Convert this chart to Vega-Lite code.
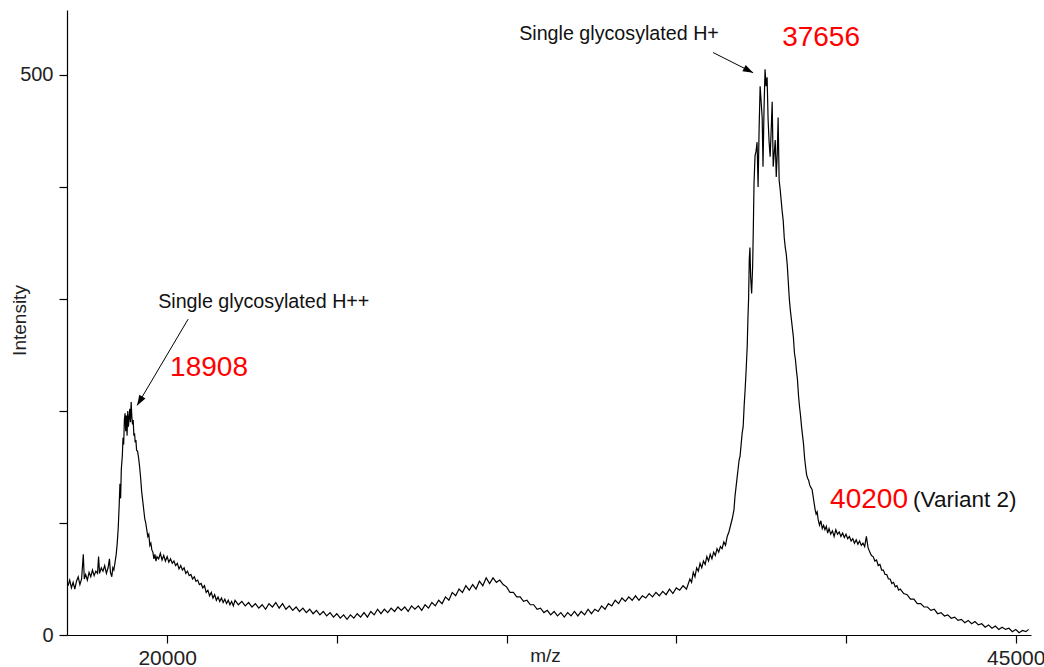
{
  "$schema": "https://vega.github.io/schema/vega-lite/v6.json",
  "width": 964,
  "height": 625,
  "autosize": "none",
  "padding": {"left": 67, "top": 10, "right": 13, "bottom": 32},
  "background": "white",
  "config": {
    "view": {"stroke": null},
    "font": "Liberation Sans",
    "axis": {"grid": false, "domainColor": "#000", "tickColor": "#000", "labelColor": "#222", "titleColor": "#222", "labelFont": "Liberation Sans", "titleFont": "Liberation Sans", "titleFontWeight": "normal", "labelFontSize": 20, "titleFontSize": 19, "tickSize": 8, "domainWidth": 1.2, "tickWidth": 1.2}
  },
  "datasets": {
    "spectrum": [
      {"mz":17080,"intensity":44},{"mz":17130,"intensity":49},{"mz":17180,"intensity":42},{"mz":17230,"intensity":47},{"mz":17280,"intensity":41},{"mz":17330,"intensity":48},{"mz":17380,"intensity":52},{"mz":17430,"intensity":45},{"mz":17480,"intensity":50},{"mz":17530,"intensity":72},{"mz":17560,"intensity":50},{"mz":17600,"intensity":54},{"mz":17650,"intensity":49},{"mz":17700,"intensity":56},{"mz":17750,"intensity":52},{"mz":17800,"intensity":58},{"mz":17850,"intensity":53},{"mz":17900,"intensity":57},{"mz":17950,"intensity":55},{"mz":17980,"intensity":70},{"mz":18010,"intensity":55},{"mz":18060,"intensity":60},{"mz":18110,"intensity":57},{"mz":18160,"intensity":62},{"mz":18210,"intensity":55},{"mz":18260,"intensity":60},{"mz":18300,"intensity":68},{"mz":18330,"intensity":56},{"mz":18370,"intensity":52},{"mz":18400,"intensity":60},{"mz":18430,"intensity":58},{"mz":18470,"intensity":66},{"mz":18500,"intensity":72},{"mz":18530,"intensity":82},{"mz":18560,"intensity":96},{"mz":18590,"intensity":118},{"mz":18610,"intensity":135},{"mz":18630,"intensity":122},{"mz":18650,"intensity":148},{"mz":18680,"intensity":160},{"mz":18700,"intensity":176},{"mz":18720,"intensity":170},{"mz":18740,"intensity":192},{"mz":18760,"intensity":198},{"mz":18780,"intensity":182},{"mz":18800,"intensity":196},{"mz":18820,"intensity":178},{"mz":18840,"intensity":200},{"mz":18860,"intensity":186},{"mz":18880,"intensity":194},{"mz":18900,"intensity":202},{"mz":18920,"intensity":190},{"mz":18940,"intensity":208},{"mz":18960,"intensity":195},{"mz":18980,"intensity":188},{"mz":19000,"intensity":192},{"mz":19020,"intensity":178},{"mz":19040,"intensity":180},{"mz":19060,"intensity":172},{"mz":19080,"intensity":174},{"mz":19100,"intensity":165},{"mz":19130,"intensity":164},{"mz":19160,"intensity":158},{"mz":19190,"intensity":150},{"mz":19220,"intensity":140},{"mz":19250,"intensity":128},{"mz":19280,"intensity":120},{"mz":19310,"intensity":112},{"mz":19340,"intensity":104},{"mz":19370,"intensity":100},{"mz":19400,"intensity":94},{"mz":19430,"intensity":88},{"mz":19460,"intensity":90},{"mz":19490,"intensity":80},{"mz":19520,"intensity":82},{"mz":19550,"intensity":76},{"mz":19580,"intensity":74},{"mz":19610,"intensity":68},{"mz":19640,"intensity":72},{"mz":19670,"intensity":66},{"mz":19700,"intensity":70},{"mz":19750,"intensity":68},{"mz":19800,"intensity":73},{"mz":19850,"intensity":67},{"mz":19900,"intensity":71},{"mz":19950,"intensity":66},{"mz":20000,"intensity":70},{"mz":20050,"intensity":65},{"mz":20100,"intensity":68},{"mz":20150,"intensity":64},{"mz":20200,"intensity":66},{"mz":20250,"intensity":62},{"mz":20300,"intensity":64},{"mz":20350,"intensity":59},{"mz":20400,"intensity":62},{"mz":20450,"intensity":58},{"mz":20500,"intensity":60},{"mz":20550,"intensity":55},{"mz":20600,"intensity":57},{"mz":20650,"intensity":53},{"mz":20700,"intensity":54},{"mz":20750,"intensity":50},{"mz":20800,"intensity":52},{"mz":20850,"intensity":48},{"mz":20900,"intensity":49},{"mz":20950,"intensity":45},{"mz":21000,"intensity":46},{"mz":21050,"intensity":42},{"mz":21100,"intensity":44},{"mz":21150,"intensity":38},{"mz":21200,"intensity":40},{"mz":21250,"intensity":35},{"mz":21300,"intensity":38},{"mz":21350,"intensity":33},{"mz":21400,"intensity":36},{"mz":21450,"intensity":31},{"mz":21500,"intensity":34},{"mz":21550,"intensity":30},{"mz":21600,"intensity":33},{"mz":21650,"intensity":29},{"mz":21700,"intensity":32},{"mz":21750,"intensity":28},{"mz":21800,"intensity":31},{"mz":21850,"intensity":27},{"mz":21900,"intensity":30},{"mz":21950,"intensity":26},{"mz":22000,"intensity":31},{"mz":22100,"intensity":27},{"mz":22200,"intensity":30},{"mz":22300,"intensity":26},{"mz":22400,"intensity":29},{"mz":22500,"intensity":25},{"mz":22600,"intensity":28},{"mz":22700,"intensity":24},{"mz":22800,"intensity":27},{"mz":22900,"intensity":23},{"mz":23000,"intensity":28},{"mz":23100,"intensity":25},{"mz":23200,"intensity":29},{"mz":23300,"intensity":24},{"mz":23400,"intensity":28},{"mz":23500,"intensity":23},{"mz":23600,"intensity":26},{"mz":23700,"intensity":22},{"mz":23800,"intensity":25},{"mz":23900,"intensity":21},{"mz":24000,"intensity":24},{"mz":24100,"intensity":20},{"mz":24200,"intensity":23},{"mz":24300,"intensity":19},{"mz":24400,"intensity":22},{"mz":24500,"intensity":18},{"mz":24600,"intensity":21},{"mz":24700,"intensity":17},{"mz":24800,"intensity":20},{"mz":24900,"intensity":16},{"mz":25000,"intensity":19},{"mz":25100,"intensity":15},{"mz":25200,"intensity":18},{"mz":25300,"intensity":14},{"mz":25400,"intensity":18},{"mz":25500,"intensity":15},{"mz":25600,"intensity":19},{"mz":25700,"intensity":16},{"mz":25800,"intensity":20},{"mz":25900,"intensity":16},{"mz":26000,"intensity":21},{"mz":26100,"intensity":18},{"mz":26200,"intensity":23},{"mz":26300,"intensity":19},{"mz":26400,"intensity":23},{"mz":26500,"intensity":20},{"mz":26600,"intensity":24},{"mz":26700,"intensity":21},{"mz":26800,"intensity":25},{"mz":26900,"intensity":22},{"mz":27000,"intensity":25},{"mz":27100,"intensity":21},{"mz":27200,"intensity":26},{"mz":27300,"intensity":23},{"mz":27400,"intensity":26},{"mz":27500,"intensity":22},{"mz":27600,"intensity":27},{"mz":27700,"intensity":24},{"mz":27800,"intensity":29},{"mz":27900,"intensity":26},{"mz":28000,"intensity":31},{"mz":28100,"intensity":28},{"mz":28200,"intensity":34},{"mz":28300,"intensity":31},{"mz":28400,"intensity":38},{"mz":28500,"intensity":35},{"mz":28600,"intensity":41},{"mz":28700,"intensity":38},{"mz":28800,"intensity":44},{"mz":28900,"intensity":40},{"mz":29000,"intensity":45},{"mz":29100,"intensity":41},{"mz":29200,"intensity":48},{"mz":29300,"intensity":44},{"mz":29400,"intensity":51},{"mz":29500,"intensity":46},{"mz":29600,"intensity":51},{"mz":29700,"intensity":47},{"mz":29800,"intensity":49},{"mz":29900,"intensity":45},{"mz":30000,"intensity":43},{"mz":30100,"intensity":38},{"mz":30200,"intensity":38},{"mz":30300,"intensity":34},{"mz":30400,"intensity":34},{"mz":30500,"intensity":30},{"mz":30600,"intensity":31},{"mz":30700,"intensity":27},{"mz":30800,"intensity":27},{"mz":30900,"intensity":23},{"mz":31000,"intensity":24},{"mz":31100,"intensity":20},{"mz":31200,"intensity":22},{"mz":31300,"intensity":18},{"mz":31400,"intensity":21},{"mz":31500,"intensity":17},{"mz":31600,"intensity":20},{"mz":31700,"intensity":16},{"mz":31800,"intensity":20},{"mz":31900,"intensity":17},{"mz":32000,"intensity":21},{"mz":32100,"intensity":17},{"mz":32200,"intensity":21},{"mz":32300,"intensity":18},{"mz":32400,"intensity":23},{"mz":32500,"intensity":19},{"mz":32600,"intensity":23},{"mz":32700,"intensity":21},{"mz":32800,"intensity":26},{"mz":32900,"intensity":23},{"mz":33000,"intensity":28},{"mz":33100,"intensity":26},{"mz":33200,"intensity":31},{"mz":33300,"intensity":28},{"mz":33400,"intensity":33},{"mz":33500,"intensity":30},{"mz":33600,"intensity":34},{"mz":33700,"intensity":31},{"mz":33800,"intensity":35},{"mz":33900,"intensity":31},{"mz":34000,"intensity":35},{"mz":34100,"intensity":33},{"mz":34200,"intensity":37},{"mz":34300,"intensity":34},{"mz":34400,"intensity":38},{"mz":34500,"intensity":35},{"mz":34600,"intensity":39},{"mz":34700,"intensity":36},{"mz":34800,"intensity":41},{"mz":34900,"intensity":37},{"mz":35000,"intensity":42},{"mz":35100,"intensity":40},{"mz":35200,"intensity":44},{"mz":35300,"intensity":41},{"mz":35400,"intensity":50},{"mz":35450,"intensity":47},{"mz":35500,"intensity":56},{"mz":35550,"intensity":52},{"mz":35600,"intensity":60},{"mz":35650,"intensity":57},{"mz":35700,"intensity":64},{"mz":35750,"intensity":60},{"mz":35800,"intensity":66},{"mz":35850,"intensity":63},{"mz":35900,"intensity":70},{"mz":35950,"intensity":66},{"mz":36000,"intensity":72},{"mz":36050,"intensity":68},{"mz":36100,"intensity":74},{"mz":36150,"intensity":71},{"mz":36200,"intensity":77},{"mz":36250,"intensity":74},{"mz":36300,"intensity":79},{"mz":36350,"intensity":77},{"mz":36400,"intensity":83},{"mz":36450,"intensity":80},{"mz":36500,"intensity":88},{"mz":36550,"intensity":92},{"mz":36600,"intensity":98},{"mz":36650,"intensity":104},{"mz":36700,"intensity":112},{"mz":36730,"intensity":124},{"mz":36760,"intensity":132},{"mz":36790,"intensity":140},{"mz":36820,"intensity":148},{"mz":36850,"intensity":156},{"mz":36880,"intensity":160},{"mz":36910,"intensity":170},{"mz":36940,"intensity":180},{"mz":36970,"intensity":186},{"mz":37000,"intensity":205},{"mz":37030,"intensity":220},{"mz":37060,"intensity":238},{"mz":37090,"intensity":258},{"mz":37110,"intensity":282},{"mz":37130,"intensity":300},{"mz":37150,"intensity":335},{"mz":37170,"intensity":346},{"mz":37190,"intensity":320},{"mz":37220,"intensity":305},{"mz":37250,"intensity":330},{"mz":37270,"intensity":364},{"mz":37290,"intensity":403},{"mz":37320,"intensity":428},{"mz":37350,"intensity":432},{"mz":37380,"intensity":440},{"mz":37410,"intensity":400},{"mz":37440,"intensity":452},{"mz":37470,"intensity":490},{"mz":37500,"intensity":476},{"mz":37530,"intensity":462},{"mz":37555,"intensity":418},{"mz":37585,"intensity":470},{"mz":37615,"intensity":505},{"mz":37645,"intensity":490},{"mz":37675,"intensity":498},{"mz":37705,"intensity":460},{"mz":37735,"intensity":440},{"mz":37765,"intensity":427},{"mz":37795,"intensity":450},{"mz":37825,"intensity":476},{"mz":37855,"intensity":418},{"mz":37885,"intensity":430},{"mz":37915,"intensity":442},{"mz":37945,"intensity":409},{"mz":37975,"intensity":430},{"mz":38000,"intensity":462},{"mz":38030,"intensity":406},{"mz":38060,"intensity":398},{"mz":38090,"intensity":388},{"mz":38120,"intensity":378},{"mz":38150,"intensity":370},{"mz":38180,"intensity":355},{"mz":38210,"intensity":346},{"mz":38240,"intensity":340},{"mz":38270,"intensity":330},{"mz":38300,"intensity":315},{"mz":38330,"intensity":300},{"mz":38360,"intensity":290},{"mz":38390,"intensity":282},{"mz":38420,"intensity":274},{"mz":38450,"intensity":266},{"mz":38480,"intensity":252},{"mz":38510,"intensity":246},{"mz":38540,"intensity":236},{"mz":38570,"intensity":228},{"mz":38600,"intensity":214},{"mz":38630,"intensity":204},{"mz":38660,"intensity":196},{"mz":38690,"intensity":186},{"mz":38720,"intensity":178},{"mz":38750,"intensity":170},{"mz":38780,"intensity":158},{"mz":38810,"intensity":150},{"mz":38840,"intensity":143},{"mz":38870,"intensity":140},{"mz":38900,"intensity":138},{"mz":38930,"intensity":134},{"mz":38960,"intensity":132},{"mz":39000,"intensity":130},{"mz":39030,"intensity":124},{"mz":39060,"intensity":118},{"mz":39090,"intensity":112},{"mz":39120,"intensity":108},{"mz":39150,"intensity":110},{"mz":39180,"intensity":103},{"mz":39220,"intensity":98},{"mz":39260,"intensity":102},{"mz":39300,"intensity":95},{"mz":39340,"intensity":98},{"mz":39380,"intensity":94},{"mz":39420,"intensity":97},{"mz":39460,"intensity":91},{"mz":39500,"intensity":95},{"mz":39550,"intensity":90},{"mz":39600,"intensity":93},{"mz":39650,"intensity":88},{"mz":39700,"intensity":94},{"mz":39750,"intensity":90},{"mz":39800,"intensity":92},{"mz":39850,"intensity":88},{"mz":39900,"intensity":91},{"mz":39950,"intensity":87},{"mz":40000,"intensity":90},{"mz":40050,"intensity":86},{"mz":40100,"intensity":88},{"mz":40150,"intensity":84},{"mz":40200,"intensity":86},{"mz":40250,"intensity":82},{"mz":40300,"intensity":85},{"mz":40350,"intensity":81},{"mz":40400,"intensity":84},{"mz":40450,"intensity":80},{"mz":40500,"intensity":82},{"mz":40550,"intensity":79},{"mz":40600,"intensity":88},{"mz":40650,"intensity":78},{"mz":40700,"intensity":74},{"mz":40750,"intensity":71},{"mz":40800,"intensity":70},{"mz":40850,"intensity":66},{"mz":40900,"intensity":67},{"mz":40950,"intensity":62},{"mz":41000,"intensity":63},{"mz":41050,"intensity":58},{"mz":41100,"intensity":58},{"mz":41150,"intensity":54},{"mz":41200,"intensity":54},{"mz":41250,"intensity":50},{"mz":41300,"intensity":50},{"mz":41350,"intensity":46},{"mz":41400,"intensity":47},{"mz":41450,"intensity":43},{"mz":41500,"intensity":44},{"mz":41550,"intensity":40},{"mz":41600,"intensity":41},{"mz":41700,"intensity":37},{"mz":41800,"intensity":36},{"mz":41900,"intensity":32},{"mz":42000,"intensity":32},{"mz":42100,"intensity":28},{"mz":42200,"intensity":28},{"mz":42300,"intensity":25},{"mz":42400,"intensity":25},{"mz":42500,"intensity":22},{"mz":42600,"intensity":23},{"mz":42700,"intensity":19},{"mz":42800,"intensity":20},{"mz":42900,"intensity":17},{"mz":43000,"intensity":18},{"mz":43100,"intensity":15},{"mz":43200,"intensity":16},{"mz":43300,"intensity":13},{"mz":43400,"intensity":14},{"mz":43500,"intensity":11},{"mz":43600,"intensity":13},{"mz":43700,"intensity":10},{"mz":43800,"intensity":12},{"mz":43900,"intensity":9},{"mz":44000,"intensity":10},{"mz":44100,"intensity":7},{"mz":44200,"intensity":9},{"mz":44300,"intensity":6},{"mz":44400,"intensity":8},{"mz":44500,"intensity":5},{"mz":44600,"intensity":7},{"mz":44700,"intensity":5},{"mz":44800,"intensity":6},{"mz":44900,"intensity":3},{"mz":45000,"intensity":5},{"mz":45100,"intensity":2},{"mz":45200,"intensity":4},{"mz":45300,"intensity":3},{"mz":45380,"intensity":5}
    ],
    "arrows": [
      {"mz": 20619, "intensity": 282, "mz2": 19116, "intensity2": 205, "angle": 211},
      {"mz": 36085, "intensity": 520, "mz2": 37264, "intensity2": 502, "angle": 117}
    ],
    "peakLabels": [
      {"mz": 20088, "intensity": 238, "label": "18908"},
      {"mz": 38118, "intensity": 533, "label": "37656"},
      {"mz": 39532, "intensity": 120.5, "label": "40200"}
    ],
    "notes": [
      {"mz": 19735, "intensity": 297, "label": "Single glycosylated H++"},
      {"mz": 30370, "intensity": 537, "label": "Single glycosylated H+"}
    ],
    "variant": [
      {"mz": 41977, "intensity": 120.5, "label": "(Variant 2)"}
    ]
  },
  "layer": [
    {
      "data": {"name": "spectrum"},
      "mark": {"type": "line", "color": "#000", "strokeWidth": 1.2, "interpolate": "linear"},
      "encoding": {
        "x": {"field": "mz", "type": "quantitative", "scale": {"domain": [17050, 45450], "nice": false, "zero": false},
          "axis": {"title": "m/z", "values": [20000, 25000, 30000, 35000, 40000, 45000], "labelExpr": "datum.value == 20000 || datum.value == 45000 ? format(datum.value, 'd') : ''", "labelFontSize": 21, "labelPadding": 4, "titleX": 478, "titleY": 26, "titleBaseline": "alphabetic", "titleAnchor": "middle"}},
        "y": {"field": "intensity", "type": "quantitative", "scale": {"domain": [0, 558], "nice": false},
          "axis": {"title": "Intensity", "values": [0, 100, 200, 300, 400, 500], "labelExpr": "datum.value == 0 || datum.value == 500 ? format(datum.value, 'd') : ''", "labelPadding": 6, "titleX": -42, "titleY": 310, "titleBaseline": "alphabetic", "titleAngle": 270, "titleAnchor": "middle"}}
      }
    },
    {
      "data": {"name": "arrows"},
      "mark": {"type": "rule", "color": "#000", "strokeWidth": 1},
      "encoding": {
        "x": {"field": "mz", "type": "quantitative"},
        "y": {"field": "intensity", "type": "quantitative"},
        "x2": {"field": "mz2"},
        "y2": {"field": "intensity2"}
      }
    },
    {
      "data": {"name": "arrows"},
      "mark": {"type": "point", "shape": "M0,0L-0.6,1.7L0.6,1.7Z", "filled": true, "color": "#000", "opacity": 1, "size": 144, "strokeWidth": 0},
      "encoding": {
        "x": {"field": "mz2", "type": "quantitative"},
        "y": {"field": "intensity2", "type": "quantitative"},
        "angle": {"field": "angle", "type": "quantitative", "scale": null}
      }
    },
    {
      "data": {"name": "peakLabels"},
      "mark": {"type": "text", "color": "#ff0000", "fontSize": 28, "font": "Liberation Sans", "align": "left", "baseline": "middle"},
      "encoding": {
        "x": {"field": "mz", "type": "quantitative"},
        "y": {"field": "intensity", "type": "quantitative"},
        "text": {"field": "label"}
      }
    },
    {
      "data": {"name": "notes"},
      "mark": {"type": "text", "color": "#111", "fontSize": 19.7, "font": "Liberation Sans", "align": "left", "baseline": "middle"},
      "encoding": {
        "x": {"field": "mz", "type": "quantitative"},
        "y": {"field": "intensity", "type": "quantitative"},
        "text": {"field": "label"}
      }
    },
    {
      "data": {"name": "variant"},
      "mark": {"type": "text", "color": "#111", "fontSize": 22.5, "font": "Liberation Sans", "align": "left", "baseline": "middle"},
      "encoding": {
        "x": {"field": "mz", "type": "quantitative"},
        "y": {"field": "intensity", "type": "quantitative"},
        "text": {"field": "label"}
      }
    }
  ]
}
